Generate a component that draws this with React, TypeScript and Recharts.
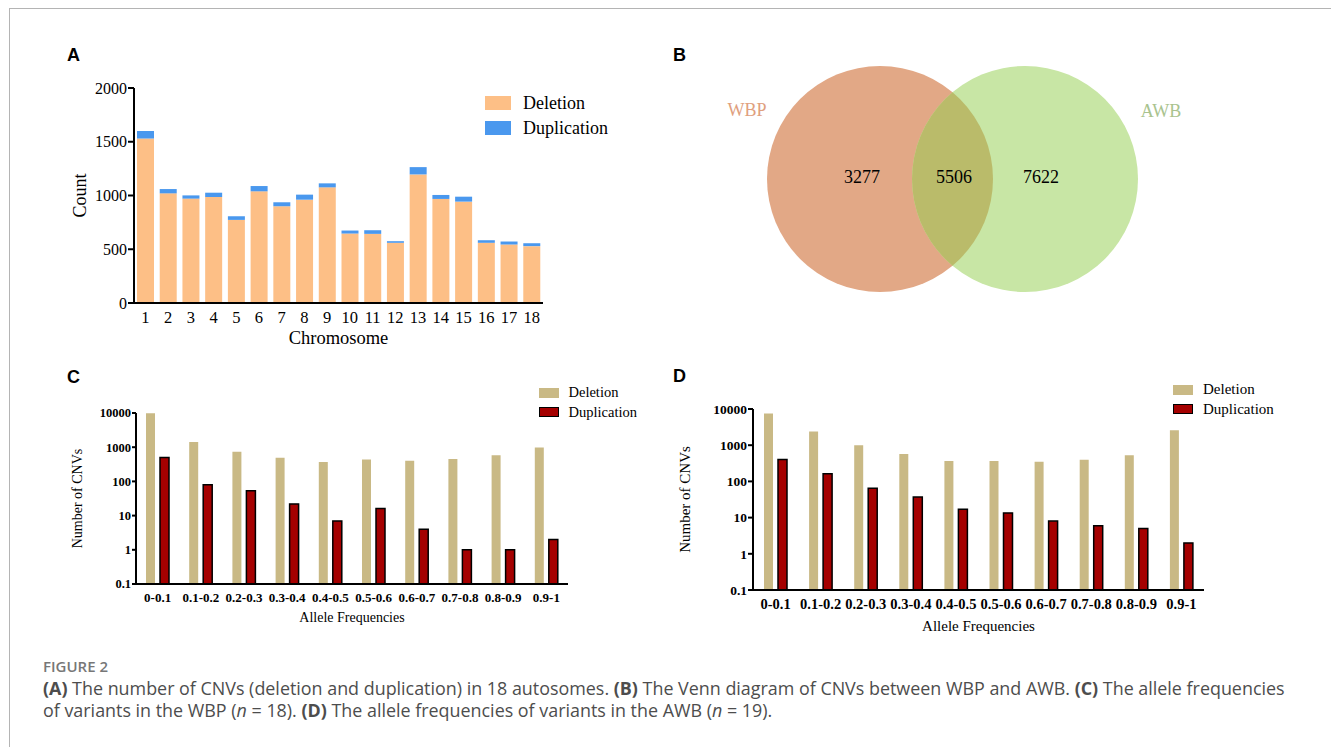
import React from 'react'
import { BarChart, Bar, XAxis, YAxis, Legend, Label, ScatterChart, Scatter } from 'recharts'

// Panel A: CNV counts per autosome
const chromosomes = ['1', '2', '3', '4', '5', '6', '7', '8', '9', '10', '11', '12', '13', '14', '15', '16', '17', '18']
const chrDeletion = [1530, 1020, 971, 986, 773, 1039, 900, 961, 1076, 646, 643, 560, 1196, 968, 943, 560, 544, 529]
const chrDuplication = [70, 40, 30, 40, 34, 49, 37, 47, 37, 28, 34, 15, 68, 37, 46, 24, 28, 27]
const countTicks = [0, 500, 1000, 1500, 2000]

// Panel B: Venn counts (WBP only, shared, AWB only)
const vennSets = ['WBP', 'AWB']
const vennCounts = [3277, 5506, 7622]

// Panels C / D: allele frequency spectra
const freqBins = ['0-0.1', '0.1-0.2', '0.2-0.3', '0.3-0.4', '0.4-0.5', '0.5-0.6', '0.6-0.7', '0.7-0.8', '0.8-0.9', '0.9-1']
const wbpDeletion = [9900, 1420, 730, 490, 370, 435, 405, 455, 580, 980]
const wbpDuplication = [500, 80, 53, 22, 7, 16, 4, 1, 1, 2]
const awbDeletion = [7500, 2400, 1000, 570, 365, 365, 350, 395, 530, 2600]
const awbDuplication = [400, 162, 65, 37, 17, 13.5, 8, 6, 5, 2]
const logTicks = [0.1, 1, 10, 100, 1000, 10000]

const SERIF = '"Liberation Serif", "Times New Roman", serif'
const SANS = '"Liberation Sans", Arial, sans-serif'

const chrData = chromosomes.map((c, i) => ({ chr: c, deletion: chrDeletion[i], duplication: chrDuplication[i] }))
const wbpData = freqBins.map((b, i) => ({ bin: b, deletion: wbpDeletion[i], duplication: wbpDuplication[i] }))
const awbData = freqBins.map((b, i) => ({ bin: b, deletion: awbDeletion[i], duplication: awbDuplication[i] }))

// venn geometry, in page pixels (chart domain is set to match)
const vennCircles = [
  { x: 880, y: 179, r: 113, fill: '#E2A886' },
  { x: 1025, y: 179, r: 113, fill: '#C8E6A5' },
]
const vennNamePos = [{ x: 747, y: 110, color: '#E0A07E' }, { x: 1161, y: 111, color: '#A9C38E' }]
const vennCountPos = [{ x: 862, y: 177 }, { x: 954, y: 177 }, { x: 1041, y: 177 }]

const yTitle = (text: string, dx: number, size: number) => (props: any) => {
  const vb = props.viewBox
  const x = vb.x + dx
  const cy = vb.y + vb.height / 2
  return (
    <text x={x} y={cy} transform={`rotate(-90 ${x} ${cy})`} textAnchor="middle" dominantBaseline="central"
      fontFamily={SERIF} fontSize={size} fill="#000">{text}</text>
  )
}

const xTitle = (text: string, y: number, size: number) => (props: any) => {
  const vb = props.viewBox
  return (
    <text x={vb.x + vb.width / 2} y={y} textAnchor="middle" dominantBaseline="central"
      fontFamily={SERIF} fontSize={size} fill="#000">{text}</text>
  )
}

type Item = { name: string; color: string; border?: boolean }

function SwatchLegend({ items, w, h, row, gap, size }: { items: Item[]; w: number; h: number; row: number; gap: number; size: number }) {
  return (
    <div style={{ fontFamily: SERIF, fontSize: size, color: '#000' }}>
      {items.map(it => (
        <div key={it.name} style={{ display: 'flex', alignItems: 'center', height: row, whiteSpace: 'nowrap' }}>
          <span style={{
            display: 'inline-block', width: w, height: h, background: it.color, marginRight: gap,
            boxSizing: 'border-box', border: it.border ? '1.5px solid #000' : 'none',
          }} />
          {it.name}
        </div>
      ))}
    </div>
  )
}

const panelLetter = (t: string, left: number, top: number) => (
  <div style={{ position: 'absolute', left, top, fontFamily: SANS, fontWeight: 700, fontSize: 18, lineHeight: '18px' }}>{t}</div>
)

function FreqChart({ data, left, top, width, height, yw, mt, ticksize, tickFont, xFont, titleFont, legendPos, xTitleY, yTitleDx, legendFont }: any) {
  return (
    <div style={{ position: 'absolute', left, top }}>
      <BarChart width={width} height={height} data={data} margin={{ top: mt, right: 12, bottom: 0, left: 0 }} barSize={9} barGap={5}>
        <XAxis dataKey="bin" interval={0} tickLine={false} axisLine={{ stroke: '#000', strokeWidth: 2 }}
          height={height - mt - 171 - (mt === 44 ? 10 : 0)} tickMargin={3}
          tick={{ fill: '#000', fontSize: xFont, fontFamily: SERIF, fontWeight: 700 }}>
          <Label content={xTitle('Allele Frequencies', xTitleY, titleFont)} />
        </XAxis>
        <YAxis scale="log" type="number" domain={[0.1, 10000]} ticks={logTicks} allowDataOverflow width={yw}
          tickFormatter={(v: number) => String(v)} tickSize={ticksize} tickMargin={1}
          axisLine={{ stroke: '#000', strokeWidth: 2 }} tickLine={{ stroke: '#000', strokeWidth: 2 }}
          tick={{ fill: '#000', fontSize: tickFont, fontFamily: SERIF, fontWeight: 700 }}>
          <Label content={yTitle('Number of CNVs', yTitleDx, titleFont)} />
        </YAxis>
        <Legend layout="vertical" align="center" verticalAlign="middle"
          wrapperStyle={{ left: legendPos[0], top: legendPos[1], width: 'auto' }}
          content={() => (
            <SwatchLegend w={20} h={10} row={19.5} gap={10} size={legendFont}
              items={[{ name: 'Deletion', color: '#C9B985' }, { name: 'Duplication', color: '#A50000', border: true }]} />
          )} />
        <Bar dataKey="deletion" fill="#C9B985" isAnimationActive={false} />
        <Bar dataKey="duplication" fill="#A50000" stroke="#000" strokeWidth={1.5} isAnimationActive={false} />
      </BarChart>
    </div>
  )
}

const VennShape = (props: any) => {
  const { cx, cy, payload } = props
  if (payload.kind === 'overlap') {
    const dx = vennCircles[0].x - vennCircles[1].x
    return (
      <g>
        <defs>
          <clipPath id="venn-left-clip">
            <circle cx={cx + dx} cy={cy} r={vennCircles[0].r} />
          </clipPath>
        </defs>
        <circle cx={cx} cy={cy} r={payload.r} fill="#BABB6A" clipPath="url(#venn-left-clip)" />
      </g>
    )
  }
  return <circle cx={cx} cy={cy} r={payload.r} fill={payload.fill} />
}

const VennText = (props: any) => {
  const { cx, cy, payload } = props
  return (
    <text x={cx} y={cy} textAnchor="middle" dominantBaseline="central" fontFamily={SERIF} fontSize={18}
      fill={payload.color || '#000'}>{payload.label}</text>
  )
}

export default function App() {
  const circleData = [
    { ...vennCircles[0], kind: 'set' },
    { ...vennCircles[1], kind: 'set' },
    { ...vennCircles[1], kind: 'overlap' },
  ]
  const textData = [
    ...vennSets.map((s, i) => ({ ...vennNamePos[i], label: s })),
    ...vennCounts.map((c, i) => ({ ...vennCountPos[i], label: String(c) })),
  ]

  return (
    <div style={{ position: 'absolute', left: 0, top: 0, width: 1331, height: 747, background: '#fff', overflow: 'hidden' }}>
      <div style={{ position: 'absolute', left: 9, top: 8, right: 0, bottom: 0, borderTop: '1.5px solid #b4b4b4', borderLeft: '1.5px solid #b4b4b4' }} />

      {panelLetter('A', 67, 46)}
      {panelLetter('B', 673, 46)}
      {panelLetter('C', 67, 368)}
      {panelLetter('D', 673, 367)}

      {/* A */}
      <div style={{ position: 'absolute', left: 60, top: 70 }}>
        <BarChart width={500} height={290} data={chrData} margin={{ top: 18, right: 17, bottom: 0, left: 0 }} barSize={17}>
          <XAxis dataKey="chr" interval={0} tickLine={false} axisLine={{ stroke: '#000', strokeWidth: 2 }} height={57}
            tickMargin={2} tick={{ fill: '#000', fontSize: 16.5, fontFamily: SERIF }}>
            <Label content={xTitle('Chromosome', 268, 18.5)} />
          </XAxis>
          <YAxis type="number" domain={[0, 2000]} ticks={countTicks} width={74} tickSize={6} tickMargin={1}
            axisLine={{ stroke: '#000', strokeWidth: 2 }} tickLine={{ stroke: '#000', strokeWidth: 2 }}
            tick={{ fill: '#000', fontSize: 16, fontFamily: SERIF }}>
            <Label content={yTitle('Count', 20, 18)} />
          </YAxis>
          <Legend layout="vertical" align="center" verticalAlign="middle"
            wrapperStyle={{ left: 425, top: 20.5, width: 'auto' }}
            content={() => (
              <SwatchLegend w={26} h={14} row={25} gap={12} size={18}
                items={[{ name: 'Deletion', color: '#FDBF86' }, { name: 'Duplication', color: '#4A98EE' }]} />
            )} />
          <Bar dataKey="deletion" stackId="a" fill="#FDBF86" isAnimationActive={false} />
          <Bar dataKey="duplication" stackId="a" fill="#4A98EE" isAnimationActive={false} />
        </BarChart>
      </div>

      {/* B */}
      <div style={{ position: 'absolute', left: 660, top: 40 }}>
        <ScatterChart width={560} height={300} margin={{ top: 0, right: 0, bottom: 0, left: 0 }}>
          <XAxis type="number" dataKey="x" domain={[660, 1220]} hide />
          <YAxis type="number" dataKey="y" domain={[40, 340]} reversed hide />
          <Scatter data={circleData} shape={VennShape} isAnimationActive={false} />
          <Scatter data={textData} shape={VennText} isAnimationActive={false} />
        </ScatterChart>
      </div>

      {/* C */}
      <FreqChart data={wbpData} left={60} top={370} width={520} height={262} yw={76} mt={43} ticksize={4}
        tickFont={12.5} xFont={13} titleFont={14} legendFont={14.5} legendPos={[478.5, 13]} xTitleY={247} yTitleDx={17} />

      {/* D */}
      <FreqChart data={awbData} left={665} top={365} width={551} height={275} yw={88} mt={44} ticksize={5}
        tickFont={13.5} xFont={14.5} titleFont={15} legendFont={15} legendPos={[508, 14.75]} xTitleY={261} yTitleDx={20} />

      <div style={{ position: 'absolute', left: 43, top: 657, fontFamily: '"Open Sans", sans-serif', fontSize: 15, fontWeight: 600, lineHeight: '18px', color: '#777' }}>
        FIGURE 2
      </div>
      <div style={{ position: 'absolute', left: 43, top: 677, fontFamily: '"Open Sans", sans-serif', fontSize: 17.9, lineHeight: '22px', color: '#4d4d4d', whiteSpace: 'nowrap' }}>
        <b>(A)</b> The number of CNVs (deletion and duplication) in 18 autosomes. <b>(B)</b> The Venn diagram of CNVs between WBP and AWB. <b>(C)</b> The allele frequencies<br />
        of variants in the WBP (<i>n</i>&nbsp;=&nbsp;18). <b>(D)</b> The allele frequencies of variants in the AWB (<i>n</i>&nbsp;=&nbsp;19).
      </div>
    </div>
  )
}
